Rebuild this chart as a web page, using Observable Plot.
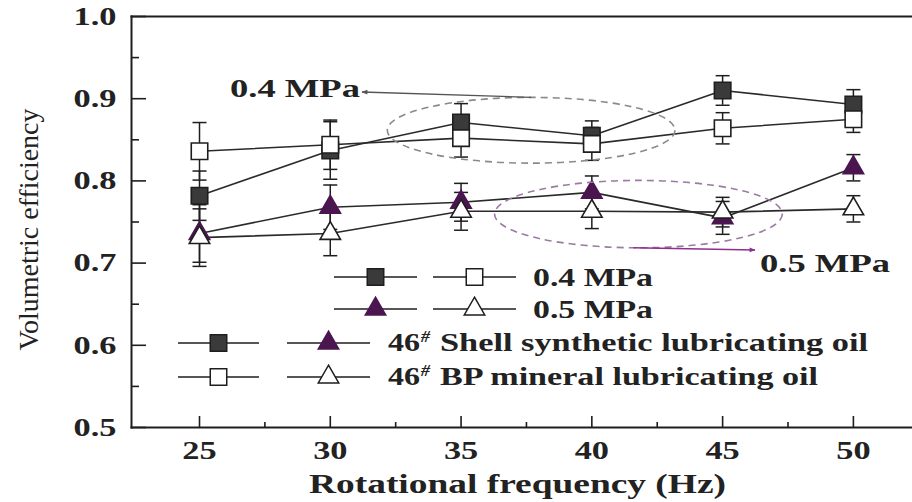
<!DOCTYPE html>
<html>
<head>
<meta charset="utf-8">
<script src="https://cdn.jsdelivr.net/npm/d3@7"></script>
<script src="https://cdn.jsdelivr.net/npm/@observablehq/plot@0.6"></script>
<style>
  html, body { margin: 0; padding: 0; background: #fff; }
  #chart { width: 912px; height: 502px; }
</style>
</head>
<body>
<div id="chart"></div>
<script>
// Volumetric efficiency vs rotational frequency, two oils at two pressures
const frequency = [25, 30, 35, 40, 45, 50];
const shell04 = [0.782, 0.837, 0.871, 0.855, 0.910, 0.893];
const shell04Err = [0.030, 0.035, 0.023, 0.018, 0.018, 0.018];
const bp04 = [0.836, 0.844, 0.852, 0.845, 0.864, 0.875];
const bp04Err = [0.035, 0.030, 0.023, 0.020, 0.019, 0.016];
const shell05 = [0.736, 0.768, 0.774, 0.786, 0.755, 0.816];
const shell05Err = [0.035, 0.027, 0.023, 0.020, 0.020, 0.016];
const bp05 = [0.731, 0.736, 0.763, 0.763, 0.762, 0.766];
const bp05Err = [0.035, 0.027, 0.023, 0.021, 0.018, 0.016];

const yTicks = [0.5, 0.6, 0.7, 0.8, 0.9, 1.0];
const yMinorTicks = [0.55, 0.65, 0.75, 0.85, 0.95];
const xTicks = [25, 30, 35, 40, 45, 50];
const xMinorTicks = [27.5, 32.5, 37.5, 42.5, 47.5];

const xLabel = "Rotational frequency (Hz)";
const yLabel = "Volumetric efficiency";
const pressureLabels = ["0.4 MPa", "0.5 MPa"];
const oilLabels = ["Shell synthetic lubricating oil", "BP mineral lubricating oil"];
const oilGrade = "46";

const series = [
  {name: "shell04", values: shell04, err: shell04Err, symbol: "square", fill: "#3a3a3a"},
  {name: "bp04", values: bp04, err: bp04Err, symbol: "square", fill: "#ffffff"},
  {name: "shell05", values: shell05, err: shell05Err, symbol: "triangle", fill: "#4b1650"},
  {name: "bp05", values: bp05, err: bp05Err, symbol: "triangle", fill: "#ffffff"}
];
const rows = series.flatMap(s => frequency.map((f, i) => ({
  series: s.name, f, v: s.values[i], lo: s.values[i] - s.err[i], hi: s.values[i] + s.err[i],
  symbol: s.symbol, fill: s.fill
})));

const FONT = "'Liberation Serif', 'Times New Roman', serif";
const INK = "#1e1e1e";
const TEXT = "#222222";
const markerR = {square: 9.3, triangle: 7.6};
const WIDE = 1.32; // horizontal stretch of the lettering

// horizontal cap for the error bars
const capSymbol = {draw(ctx) { ctx.moveTo(-7, 0); ctx.lineTo(7, 0); }};

const W = 912, H = 502, mL = 131, mR = 0, mT = 16, mB = 75;
const frameW = W - mL - mR, frameH = H - mT - mB;

const plot = Plot.plot({
  width: W, height: H,
  marginLeft: mL, marginRight: mR, marginTop: mT, marginBottom: mB,
  style: {fontFamily: FONT, background: "#fff", color: INK},
  x: {domain: [22.4, 52.26], axis: null},
  y: {domain: [0.5, 1.0], axis: null},
  marks: [
    Plot.frame({anchor: "left", stroke: INK, strokeWidth: 2}),
    Plot.frame({anchor: "bottom", stroke: INK, strokeWidth: 2}),
    Plot.frame({anchor: "top", stroke: INK, strokeWidth: 2}),
    Plot.tickY(yTicks, {y: d => d, insetRight: frameW - 15, stroke: INK, strokeWidth: 1.6}),
    Plot.tickY(yMinorTicks, {y: d => d, insetRight: frameW - 8, stroke: INK, strokeWidth: 1.6}),
    Plot.tickX(xTicks, {x: d => d, insetTop: frameH - 11, stroke: INK, strokeWidth: 1.6}),
    Plot.tickX(xMinorTicks, {x: d => d, insetTop: frameH - 5, stroke: INK, strokeWidth: 1.6}),
    Plot.axisY({ticks: yTicks, tickSize: 0, tickPadding: 15, tickFormat: d3.format(".1f"),
      fontSize: 26, fontWeight: "bold", fill: TEXT, label: null}),
    Plot.axisX({ticks: xTicks, tickSize: 0, tickPadding: 13, tickFormat: d => String(d),
      fontSize: 26, fontWeight: "bold", fill: TEXT, label: null}),
    Plot.line(rows, {x: "f", y: "v", z: "series", stroke: "#2a2a2a", strokeWidth: 1.6}),
    Plot.ruleX(rows, {x: "f", y1: "lo", y2: "hi", stroke: INK, strokeWidth: 1.5}),
    Plot.dot(rows, {x: "f", y: "lo", symbol: capSymbol, stroke: INK, strokeWidth: 1.5, r: 7}),
    Plot.dot(rows, {x: "f", y: "hi", symbol: capSymbol, stroke: INK, strokeWidth: 1.5, r: 7}),
    Plot.dot(rows.filter(d => d.symbol === "square"), {x: "f", y: "v", symbol: "square", r: markerR.square,
      fill: "fill", stroke: INK, strokeWidth: 1.6}),
    Plot.dot(rows.filter(d => d.symbol === "triangle"), {x: "f", y: "v", symbol: "triangle", r: markerR.triangle,
      fill: "fill", stroke: d => d.fill === "#ffffff" ? INK : d.fill, strokeWidth: 1.6})
  ]
});
document.getElementById("chart").appendChild(plot);

// widen the axis tick labels
d3.select(plot).selectAll('g[aria-label$="tick label"] text').each(function() {
  this.setAttribute("textLength", this.getComputedTextLength() * WIDE);
  this.setAttribute("lengthAdjust", "spacingAndGlyphs");
});

const sx = plot.scale("x"), sy = plot.scale("y");
const svg = d3.select(plot);

function addText(sel, x, y, size, weight) {
  return sel.append("text").attr("x", x).attr("y", y)
    .attr("text-anchor", "start")
    .attr("font-family", FONT).attr("font-size", size).attr("font-weight", weight).attr("fill", TEXT);
}
function widen(t, len) {
  t.attr("textLength", len).attr("lengthAdjust", "spacingAndGlyphs");
  return t;
}

// axis titles
widen(addText(svg, (mL + W) / 2 - 4, 493, 27, "bold").attr("text-anchor", "middle").text(xLabel), 417);
widen(svg.append("text")
  .attr("transform", `translate(38, ${(mT + H - mB) / 2 + 8}) rotate(-90)`)
  .attr("text-anchor", "middle")
  .attr("font-family", FONT).attr("font-size", 27).attr("fill", TEXT)
  .text(yLabel), 242);

// arrowheads
const defs = svg.append("defs");
function arrowHead(id, color) {
  defs.append("marker").attr("id", id)
    .attr("viewBox", "0 0 10 10").attr("refX", 9).attr("refY", 5)
    .attr("markerWidth", 9).attr("markerHeight", 6).attr("orient", "auto-start-reverse")
    .attr("markerUnits", "userSpaceOnUse")
    .append("path").attr("d", "M0,1 L10,5 L0,9 Z").attr("fill", color);
}
arrowHead("arrow-gray", "#555");
arrowHead("arrow-purple", "#8e2f8e");

// dashed groupings of the two pressure levels
const groups = [
  {cx: 37.7, cy: 0.861, hx: 5.5, hy: 0.040, stroke: "#8a8a8a"},
  {cx: 41.8, cy: 0.759, hx: 5.5, hy: 0.041, stroke: "#9c7aa4"}
];
const ell = groups.map(g => {
  const cx = sx.apply(g.cx), cy = sy.apply(g.cy);
  const rx = sx.apply(g.cx + g.hx) - cx, ry = cy - sy.apply(g.cy + g.hy);
  svg.append("ellipse").attr("cx", cx).attr("cy", cy).attr("rx", rx).attr("ry", ry)
    .attr("fill", "none").attr("stroke", g.stroke).attr("stroke-width", 1.6)
    .attr("stroke-dasharray", "7,5");
  return {cx, cy, rx, ry};
});

// 0.4 MPa callout
svg.append("line")
  .attr("x1", ell[0].cx).attr("y1", ell[0].cy - ell[0].ry)
  .attr("x2", 362).attr("y2", 92)
  .attr("stroke", "#555").attr("stroke-width", 1.3).attr("marker-end", "url(#arrow-gray)");
widen(addText(svg, 230, 97, 25, "bold").text(pressureLabels[0]), 130);

// 0.5 MPa callout
svg.append("line")
  .attr("x1", ell[1].cx - 5).attr("y1", ell[1].cy + ell[1].ry)
  .attr("x2", 755).attr("y2", 250)
  .attr("stroke", "#8e2f8e").attr("stroke-width", 1.6).attr("marker-end", "url(#arrow-purple)");
widen(addText(svg, 760, 272, 26, "bold").text(pressureLabels[1]), 130);

// legend
const legend = svg.append("g");
function legendItem(x0, x1, y, s) {
  legend.append("line").attr("x1", x0).attr("x2", x1).attr("y1", y).attr("y2", y)
    .attr("stroke", INK).attr("stroke-width", 1.5);
  const r = markerR[s.symbol];
  const sym = s.symbol === "square" ? d3.symbolSquare : d3.symbolTriangle;
  const open = s.fill === "#ffffff";
  legend.append("path")
    .attr("transform", `translate(${(x0 + x1) / 2},${y})`)
    .attr("d", d3.symbol(sym, r * r * Math.PI)())
    .attr("fill", s.fill)
    .attr("stroke", open || s.symbol === "square" ? INK : s.fill).attr("stroke-width", 1.5);
}
function legendText(x, y, main, len, sup) {
  if (sup) {
    widen(addText(legend, x, y, 25, "bold").text(oilGrade), 32);
    widen(addText(legend, x + 33, y - 9, 16, "bold").attr("font-style", "italic").text("#"), 9);
    widen(addText(legend, x + 52, y, 25, "bold").text(main), len - 52);
  } else {
    widen(addText(legend, x, y, 25, "bold").text(main), len);
  }
}
legendItem(334, 417, 277, series[0]);
legendItem(433, 516, 277, series[1]);
legendText(533, 286, pressureLabels[0], 120);
legendItem(334, 417, 309, series[2]);
legendItem(433, 516, 309, series[3]);
legendText(533, 318, pressureLabels[1], 120);
legendItem(178, 259, 343, series[0]);
legendItem(287, 370, 343, series[2]);
legendText(388, 351, oilLabels[0], 480, true);
legendItem(178, 259, 377, series[1]);
legendItem(287, 370, 377, series[3]);
legendText(388, 385, oilLabels[1], 430, true);
</script>
</body>
</html>
